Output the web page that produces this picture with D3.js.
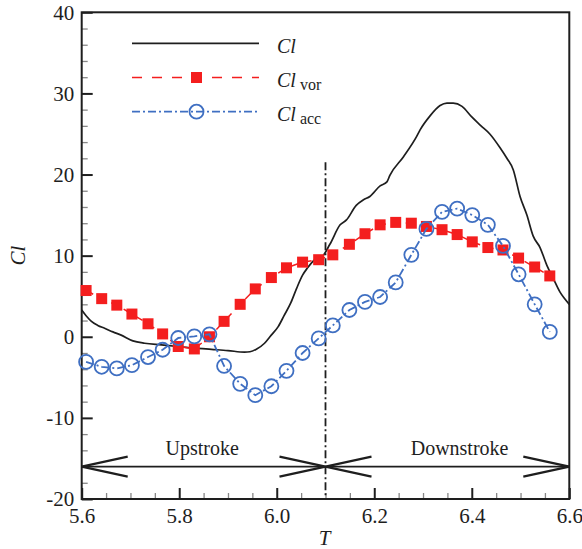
<!DOCTYPE html>
<html lang="en">
<head>
<meta charset="UTF-8">
<title>Cl</title>
<script src="https://cdn.jsdelivr.net/npm/d3@7"></script>
<style>
  body { margin: 0; background: #fff; }
  svg { display: block; }
  svg text { font-family: "Liberation Serif", "Times New Roman", serif; }
</style>
</head>
<body>
<script>
// sampled stroke times shared by both component series
const T = [5.609, 5.641, 5.672, 5.703, 5.736, 5.766, 5.798, 5.831, 5.862, 5.892,
           5.925, 5.956, 5.989, 6.020, 6.053, 6.086, 6.115, 6.149, 6.181, 6.212,
           6.244, 6.276, 6.307, 6.339, 6.370, 6.401, 6.433, 6.464, 6.496, 6.529, 6.560];
const clVor = [5.7, 4.7, 3.9, 2.8, 1.6, 0.35, -1.2, -1.5, 0.0, 1.9,
               4.0, 5.9, 7.3, 8.5, 9.2, 9.5, 10.1, 11.4, 12.7, 13.8,
               14.1, 14.0, 13.6, 13.2, 12.6, 11.7, 11.0, 10.7, 9.7, 8.6, 7.5];
const clAcc = [-3.1, -3.7, -3.9, -3.5, -2.5, -1.6, -0.15, 0.05, 0.3, -3.6,
               -5.8, -7.2, -6.1, -4.2, -2.0, -0.2, 1.4, 3.3, 4.3, 4.9,
               6.7, 10.1, 13.3, 15.4, 15.8, 15.0, 13.8, 11.2, 7.7, 4.0, 0.6];

// total lift coefficient (continuous curve)
const clT = [5.600, 5.609, 5.620, 5.633, 5.647, 5.664, 5.681, 5.705, 5.729, 5.763,
             5.797, 5.832, 5.866, 5.900, 5.934, 5.945, 5.959, 5.975, 5.986, 6.003,
             6.015, 6.029, 6.041, 6.053, 6.062, 6.078, 6.092, 6.109, 6.130, 6.143,
             6.163, 6.178, 6.191, 6.212, 6.226, 6.232, 6.260, 6.287, 6.294, 6.314,
             6.335, 6.349, 6.362, 6.380, 6.400, 6.419, 6.437, 6.458, 6.472, 6.485,
             6.499, 6.513, 6.526, 6.540, 6.554, 6.567, 6.581, 6.589, 6.600];
const clTotal = [3.3, 2.6, 1.9, 1.4, 1.05, 0.6, 0.2, -0.5, -0.8, -1.0,
                 -1.2, -1.4, -1.55, -1.7, -1.9, -1.85, -1.5, -0.8, 0.0, 1.25,
                 2.6, 4.2, 6.0, 7.6, 8.4, 9.5, 9.8, 11.4, 13.8, 14.4,
                 16.2, 16.9, 17.3, 18.6, 19.1, 19.9, 22.2, 24.7, 25.5, 27.2,
                 28.5, 28.8, 28.8, 28.4, 27.1, 26.0, 25.0, 23.3, 22.0, 20.6,
                 17.3, 15.0, 12.4, 11.0, 8.8, 7.2, 5.5, 4.8, 4.0];

const xTicks = [5.6, 5.8, 6.0, 6.2, 6.4, 6.6];
const yTicks = [-20, -10, 0, 10, 20, 30, 40];
const strokeSplit = 6.1;
const splitTop = 21.5;
const arrowLevel = -16;
const phases = [{ label: "Upstroke", at: 5.847 }, { label: "Downstroke", at: 6.375 }];

const width = 582, height = 549;
const marginTop = 12.3, marginRight = 12.7, marginBottom = 50, marginLeft = 81.7;

const red = "#f41e1e", blue = "#3f6fc2", ink = "#1e1e1e";
const serif = '"Liberation Serif", "Times New Roman", serif';

const x = d3.scaleLinear().domain([5.6, 6.6]).range([marginLeft, width - marginRight]);
const y = d3.scaleLinear().domain([-20, 40]).range([height - marginBottom, marginTop]);

const svg = d3.select("body").append("svg")
    .attr("width", width).attr("height", height)
    .attr("viewBox", [0, 0, width, height]);

// minor ticks
const xMinor = d3.range(5.65, 6.6, 0.05).filter(v => Math.abs(v * 5 - Math.round(v * 5)) > 1e-6);
const yMinor = d3.range(-18, 40, 2).filter(v => v % 10 !== 0);

svg.append("g")
    .attr("transform", `translate(0,${y(-20)})`)
    .call(d3.axisBottom(x).tickValues(xMinor).tickSizeInner(-6).tickSizeOuter(0).tickFormat(""))
    .call(g => g.select(".domain").remove())
    .call(g => g.selectAll("line").attr("stroke", "#888").attr("stroke-width", 1.3));

svg.append("g")
    .attr("transform", `translate(${x(5.6)},0)`)
    .call(d3.axisLeft(y).tickValues(yMinor).tickSizeInner(-6).tickSizeOuter(0).tickFormat(""))
    .call(g => g.select(".domain").remove())
    .call(g => g.selectAll("line").attr("stroke", "#888").attr("stroke-width", 1.3));

// major ticks + labels
svg.append("g")
    .attr("transform", `translate(0,${y(-20)})`)
    .call(d3.axisBottom(x).tickValues(xTicks).tickSizeInner(-11).tickSizeOuter(0)
        .tickPadding(9).tickFormat(d3.format(".1f")))
    .attr("font-family", null).attr("font-size", null)
    .call(g => g.select(".domain").remove())
    .call(g => g.selectAll("line").attr("stroke", ink).attr("stroke-width", 2))
    .call(g => g.selectAll("text").style("font-size", "21px").style("font-family", serif)
        .attr("fill", ink));

svg.append("g")
    .attr("transform", `translate(${x(5.6)},0)`)
    .call(d3.axisLeft(y).tickValues(yTicks).tickSizeInner(-11).tickSizeOuter(0)
        .tickPadding(7.5).tickFormat(d => String(d)))
    .attr("font-family", null).attr("font-size", null)
    .call(g => g.select(".domain").remove())
    .call(g => g.selectAll("line").attr("stroke", ink).attr("stroke-width", 2))
    .call(g => g.selectAll("text").style("font-size", "21px").style("font-family", serif)
        .attr("fill", ink));

// frame
svg.append("rect")
    .attr("x", x(5.6)).attr("y", y(40))
    .attr("width", x(6.6) - x(5.6)).attr("height", y(-20) - y(40))
    .attr("fill", "none").attr("stroke", ink).attr("stroke-width", 2);

// axis titles
svg.append("text")
    .attr("x", x(6.1) - 1).attr("y", 545)
    .attr("text-anchor", "middle").attr("font-size", 21).attr("font-style", "italic")
    .attr("fill", ink).text("T");

svg.append("text")
    .attr("transform", `translate(25,${y(10)}) rotate(-90)`)
    .attr("text-anchor", "middle").attr("font-size", 21).attr("font-style", "italic")
    .attr("fill", ink).text("Cl");

// upstroke / downstroke divider
svg.append("line")
    .attr("x1", x(strokeSplit)).attr("x2", x(strokeSplit))
    .attr("y1", y(splitTop)).attr("y2", y(-20))
    .attr("stroke", ink).attr("stroke-width", 1.8)
    .attr("stroke-dasharray", "8,3,2,3");

svg.append("line")
    .attr("x1", x(5.6)).attr("x2", x(6.6))
    .attr("y1", y(arrowLevel)).attr("y2", y(arrowLevel))
    .attr("stroke", ink).attr("stroke-width", 1.8);

const arrowLen = 46, arrowHalf = 10;
const heads = [[5.6, 1], [strokeSplit, -1], [strokeSplit, 1], [6.6, -1]];
svg.append("g").selectAll("path").data(heads).join("path")
    .attr("d", ([t, dir]) => {
        const tx = x(t), ty = y(arrowLevel);
        return `M${tx + dir * arrowLen},${ty - arrowHalf}L${tx},${ty}L${tx + dir * arrowLen},${ty + arrowHalf}`;
    })
    .attr("fill", "none").attr("stroke", ink).attr("stroke-width", 2.2);

svg.append("g").selectAll("text").data(phases).join("text")
    .attr("x", d => x(d.at)).attr("y", y(arrowLevel) - 12)
    .attr("text-anchor", "middle").attr("font-size", 20).attr("fill", ink)
    .text(d => d.label);

// series
const totalLine = d3.line().x((d, i) => x(clT[i])).y(d => y(d)).curve(d3.curveMonotoneX);
svg.append("path")
    .datum(clTotal)
    .attr("fill", "none").attr("stroke", ink).attr("stroke-width", 1.7)
    .attr("d", totalLine);

const compLine = d3.line().x((d, i) => x(T[i])).y(d => y(d));

svg.append("path")
    .datum(clVor)
    .attr("fill", "none").attr("stroke", red).attr("stroke-width", 1.5)
    .attr("stroke-dasharray", "8,6")
    .attr("d", compLine);

const sq = 11;
svg.append("g").selectAll("rect").data(clVor).join("rect")
    .attr("x", (d, i) => x(T[i]) - sq / 2).attr("y", d => y(d) - sq / 2)
    .attr("width", sq).attr("height", sq).attr("fill", red);

svg.append("path")
    .datum(clAcc)
    .attr("fill", "none").attr("stroke", blue).attr("stroke-width", 1.8)
    .attr("stroke-dasharray", "8,3,2,3")
    .attr("d", compLine);

svg.append("g").selectAll("circle").data(clAcc).join("circle")
    .attr("cx", (d, i) => x(T[i])).attr("cy", d => y(d)).attr("r", 7)
    .attr("fill", "none").attr("stroke", blue).attr("stroke-width", 1.8);

// legend
const legend = [
    { sub: "", color: ink, dash: null, marker: null, w: 1.7 },
    { sub: "vor", color: red, dash: "10,10", marker: "square", w: 1.5 },
    { sub: "acc", color: blue, dash: "8,3,2,3", marker: "circle", w: 1.8 }
];
const lx0 = 132, lx1 = 259, ly0 = 43.3, lstep = 34.2;
const lg = svg.append("g").selectAll("g").data(legend).join("g")
    .attr("transform", (d, i) => `translate(0,${ly0 + i * lstep})`);

lg.append("line")
    .attr("x1", lx0).attr("x2", lx1)
    .attr("stroke", d => d.color).attr("stroke-width", d => d.w)
    .attr("stroke-dasharray", d => d.dash);

lg.filter(d => d.marker === "square").append("rect")
    .attr("x", (lx0 + lx1) / 2 - sq / 2 + 1).attr("y", -sq / 2)
    .attr("width", sq).attr("height", sq).attr("fill", red);

lg.filter(d => d.marker === "circle").append("circle")
    .attr("cx", (lx0 + lx1) / 2 + 1).attr("r", 7)
    .attr("fill", "none").attr("stroke", blue).attr("stroke-width", 1.8);

const lt = lg.append("text")
    .attr("x", 277).attr("y", 9.5).attr("fill", ink).attr("font-size", 20);
lt.append("tspan").attr("font-style", "italic").text("Cl");
lt.filter(d => d.sub).append("tspan")
    .attr("dx", 4).attr("dy", 3).attr("font-size", 16).text(d => d.sub);
</script>
</body>
</html>
